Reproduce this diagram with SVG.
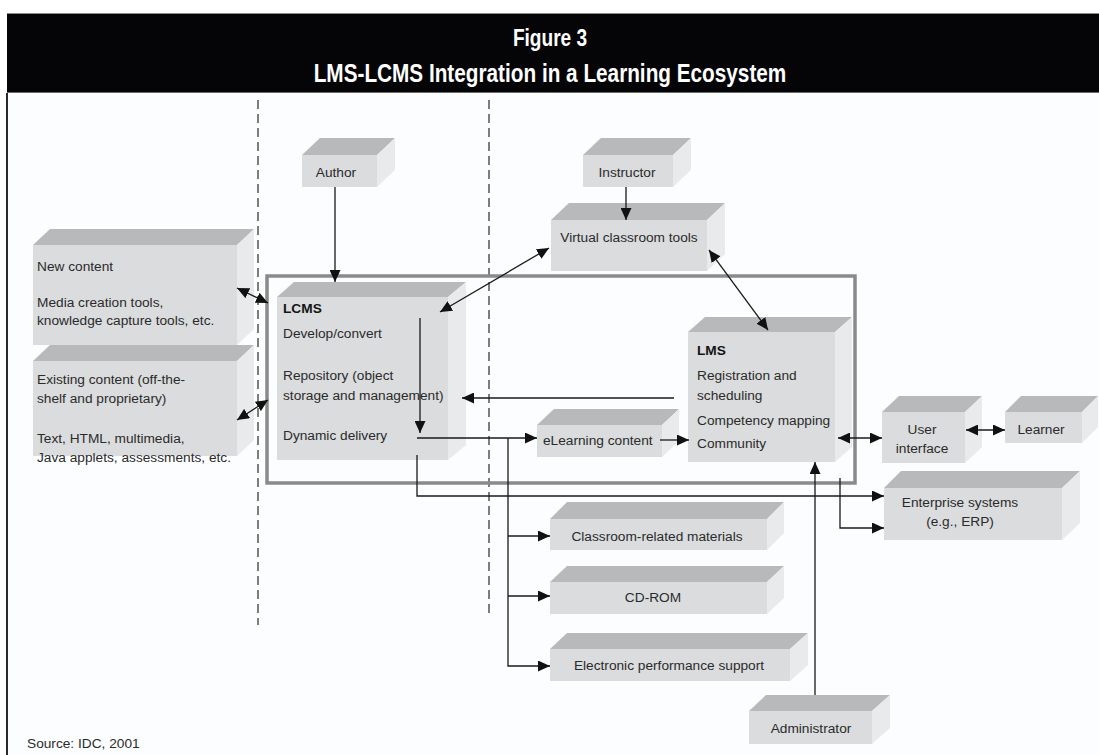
<svg xmlns="http://www.w3.org/2000/svg" width="1099" height="755" viewBox="0 0 1099 755">
  <defs>
    <marker id="arrow" markerUnits="userSpaceOnUse" markerWidth="13" markerHeight="11" refX="12" refY="5.5" orient="auto-start-reverse">
      <path d="M0,0 L12,5.5 L0,11 z" fill="#111"/>
    </marker>
    <style>
      .title { font-family: "Liberation Sans Narrow", "Liberation Sans", Arial, sans-serif; font-weight: bold; fill: #ffffff; text-anchor: middle; }
      .t { font-family: "Liberation Sans", Arial, sans-serif; font-size: 13.7px; fill: #2b2b2b; }
      .c { text-anchor: middle; }
      .b { font-weight: bold; fill: #151515; }
      .front { fill: #dadcdd; }
      .top { fill: #b7b9ba; }
      .side { fill: #e8eaeb; }
      .conn { fill: none; stroke: #1a1a1a; stroke-width: 1.3; }
      .dash { fill: none; stroke: #3a3a3a; stroke-width: 1.3; stroke-dasharray: 9 5; }
    </style>
  </defs>

  <!-- page -->
  <rect x="0" y="0" width="1099" height="755" fill="#ffffff"/>
  <rect x="7" y="93" width="1092" height="662" fill="#fbfdfe"/>
  <line x1="7" y1="93" x2="7" y2="755" stroke="#2a2a2a" stroke-width="2"/>

  <!-- header bar, condensed bold heading -->
  <g id="header">
    <rect x="7" y="13" width="1092" height="80" fill="#050508"/>
    <line x1="7" y1="13.5" x2="1099" y2="13.5" stroke="#8a8a8a" stroke-width="1"/>
    <line x1="7" y1="92.5" x2="1099" y2="92.5" stroke="#6a6a6a" stroke-width="1"/>
    <g transform="translate(550,0) scale(0.83,1)">
      <text class="title" x="0" y="46" font-size="23">Figure 3</text>
      <text class="title" x="0" y="82" font-size="25">LMS-LCMS Integration in a Learning Ecosystem</text>
    </g>
  </g>

  <!-- zone separators -->
  <g id="separators">
    <path class="dash" d="M258,100 V625"/>
    <path class="dash" d="M489,100 V615"/>
  </g>

  <!-- LMS-LCMS integration boundary -->
  <rect id="integration-frame" x="267" y="276" width="588" height="207" fill="none" stroke="#8a8a8a" stroke-width="3.5"/>

  <!-- nodes: 3D blocks (top face, side face, front face) -->
  <g id="author">
    <polygon class="top" points="302,155 320,138 395,138 377,155"/>
    <polygon class="side" points="377,155 395,138 395,170 377,187"/>
    <rect class="front" x="302" y="155" width="75" height="32"/>
    <text class="t c" x="336" y="177">Author</text>
  </g>

  <g id="instructor">
    <polygon class="top" points="583,155 601,138 691,138 673,155"/>
    <polygon class="side" points="673,155 691,138 691,170 673,187"/>
    <rect class="front" x="583" y="155" width="90" height="32"/>
    <text class="t c" x="627" y="177">Instructor</text>
  </g>

  <g id="virtual-classroom">
    <polygon class="top" points="551,220 569,203 725,203 707,220"/>
    <polygon class="side" points="707,220 725,203 725,254 707,271"/>
    <rect class="front" x="551" y="220" width="156" height="51"/>
    <text class="t c" x="629" y="242">Virtual classroom tools</text>
  </g>

  <g id="new-content">
    <polygon class="top" points="33,245 50,229 254,229 237,245"/>
    <polygon class="side" points="237,245 254,229 254,329 237,345"/>
    <rect class="front" x="33" y="245" width="204" height="100"/>
    <text class="t" x="37" y="271">New content</text>
    <text class="t" x="37" y="307">Media creation tools,</text>
    <text class="t" x="37" y="325">knowledge capture tools, etc.</text>
  </g>

  <g id="existing-content">
    <polygon class="top" points="33,361 50,345 254,345 237,361"/>
    <polygon class="side" points="237,361 254,345 254,440 237,456"/>
    <rect class="front" x="33" y="361" width="204" height="95"/>
    <text class="t" x="37" y="384">Existing content (off-the-</text>
    <text class="t" x="37" y="403">shelf and proprietary)</text>
    <text class="t" x="37" y="443">Text, HTML, multimedia,</text>
    <text class="t" x="37" y="462">Java applets, assessments, etc.</text>
  </g>

  <g id="lcms">
    <polygon class="top" points="277,297 294,282 466,282 448,297"/>
    <polygon class="side" points="448,297 466,282 466,445 448,460"/>
    <rect class="front" x="277" y="297" width="171" height="163"/>
    <text class="t b" x="283" y="313">LCMS</text>
    <text class="t" x="283" y="338">Develop/convert</text>
    <text class="t" x="283" y="380">Repository (object</text>
    <text class="t" x="283" y="400">storage and management)</text>
    <text class="t" x="283" y="440">Dynamic delivery</text>
  </g>

  <g id="lms">
    <polygon class="top" points="688,332 705,317 852,317 835,332"/>
    <polygon class="side" points="835,332 852,317 852,447 835,462"/>
    <rect class="front" x="688" y="332" width="147" height="130"/>
    <text class="t b" x="697" y="355">LMS</text>
    <text class="t" x="697" y="380">Registration and</text>
    <text class="t" x="697" y="400">scheduling</text>
    <text class="t" x="697" y="425">Competency mapping</text>
    <text class="t" x="697" y="448">Community</text>
  </g>

  <g id="elearning-content">
    <polygon class="top" points="537,425 554,409 679,409 662,425"/>
    <polygon class="side" points="662,425 679,409 679,441 662,457"/>
    <rect class="front" x="537" y="425" width="125" height="32"/>
    <text class="t" x="543" y="445">eLearning content</text>
  </g>

  <g id="user-interface">
    <polygon class="top" points="882,412 899,396 982,396 965,412"/>
    <polygon class="side" points="965,412 982,396 982,447 965,463"/>
    <rect class="front" x="882" y="412" width="83" height="51"/>
    <text class="t c" x="922" y="434">User</text>
    <text class="t c" x="922" y="453">interface</text>
  </g>

  <g id="learner">
    <polygon class="top" points="1005,412 1021,396 1098,396 1082,412"/>
    <polygon class="side" points="1082,412 1098,396 1098,427 1082,443"/>
    <rect class="front" x="1005" y="412" width="77" height="31"/>
    <text class="t c" x="1041" y="434">Learner</text>
  </g>

  <g id="enterprise-systems">
    <polygon class="top" points="884,488 901,471 1080,471 1062,488"/>
    <polygon class="side" points="1062,488 1080,471 1080,523 1062,540"/>
    <rect class="front" x="884" y="488" width="178" height="52"/>
    <text class="t c" x="960" y="507">Enterprise systems</text>
    <text class="t c" x="960" y="526">(e.g., ERP)</text>
  </g>

  <g id="classroom-materials">
    <polygon class="top" points="550,519 567,502 784,502 767,519"/>
    <polygon class="side" points="767,519 784,502 784,533 767,550"/>
    <rect class="front" x="550" y="519" width="217" height="31"/>
    <text class="t c" x="657" y="541">Classroom-related materials</text>
  </g>

  <g id="cd-rom">
    <polygon class="top" points="550,582 567,566 784,566 767,582"/>
    <polygon class="side" points="767,582 784,566 784,598 767,614"/>
    <rect class="front" x="550" y="582" width="217" height="32"/>
    <text class="t c" x="653" y="602">CD-ROM</text>
  </g>

  <g id="performance-support">
    <polygon class="top" points="550,649 567,633 808,633 790,649"/>
    <polygon class="side" points="790,649 808,633 808,665 790,681"/>
    <rect class="front" x="550" y="649" width="240" height="32"/>
    <text class="t c" x="669" y="670">Electronic performance support</text>
  </g>

  <g id="administrator">
    <polygon class="top" points="749,711 766,695 890,695 872,711"/>
    <polygon class="side" points="872,711 890,695 890,728 872,744"/>
    <rect class="front" x="749" y="711" width="123" height="33"/>
    <text class="t c" x="811" y="733">Administrator</text>
  </g>

  <!-- connectors -->
  <g id="connectors">
    <path class="conn" d="M335,187 V282" marker-end="url(#arrow)"/>
    <path class="conn" d="M626,187 V220" marker-end="url(#arrow)"/>
    <path class="conn" d="M440,312 L549,248" marker-start="url(#arrow)" marker-end="url(#arrow)"/>
    <path class="conn" d="M709,250 L768,330" marker-start="url(#arrow)" marker-end="url(#arrow)"/>
    <path class="conn" d="M237,288 L268,303" marker-start="url(#arrow)" marker-end="url(#arrow)"/>
    <path class="conn" d="M237,420 L268,400" marker-start="url(#arrow)" marker-end="url(#arrow)"/>
    <path class="conn" d="M674,398 H462" marker-end="url(#arrow)"/>
    <path class="conn" d="M420,318 V433" marker-end="url(#arrow)"/>
    <path class="conn" d="M417,438 H537" marker-end="url(#arrow)"/>
    <path class="conn" d="M508,438 V666 H550" marker-end="url(#arrow)"/>
    <path class="conn" d="M508,536 H550" marker-end="url(#arrow)"/>
    <path class="conn" d="M508,596 H550" marker-end="url(#arrow)"/>
    <path class="conn" d="M660,440 H689" marker-end="url(#arrow)"/>
    <path class="conn" d="M417,455 V496 H884" marker-end="url(#arrow)"/>
    <path class="conn" d="M840,478 V528 H884" marker-end="url(#arrow)"/>
    <path class="conn" d="M815,695 V462" marker-end="url(#arrow)"/>
    <path class="conn" d="M838,438 H882" marker-start="url(#arrow)" marker-end="url(#arrow)"/>
    <path class="conn" d="M966,430 H1005" marker-start="url(#arrow)" marker-end="url(#arrow)"/>
  </g>

  <text class="t" x="27" y="748" font-size="16.5">Source: IDC, 2001</text>
</svg>
